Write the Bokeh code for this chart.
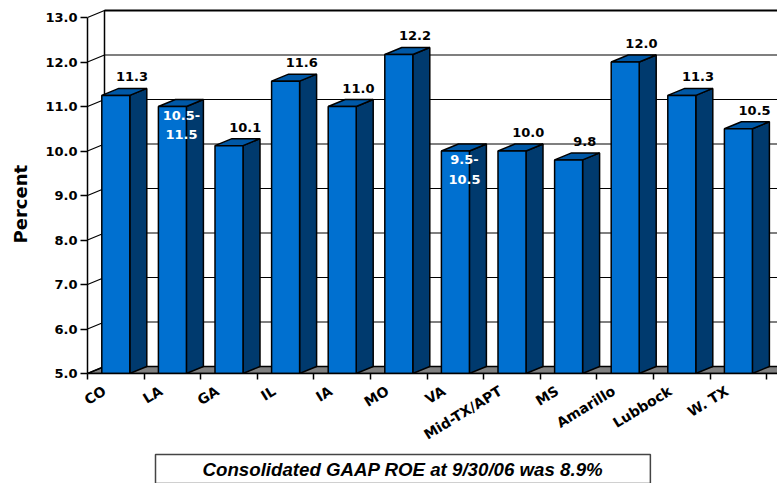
from bokeh.plotting import figure
from bokeh.embed import file_html
from bokeh.resources import INLINE
from bokeh.models import FixedTicker, NumeralTickFormatter, Title
from bokeh.core.properties import value

categories = ["CO", "LA", "GA", "IL", "IA", "MO", "VA", "Mid-TX/APT", "MS", "Amarillo", "Lubbock", "W. TX"]
roe = [11.25, 11.0, 10.12, 11.57, 11.0, 12.17, 10.0, 10.0, 9.8, 12.0, 11.25, 10.5]
labels_above = ["11.3", "", "10.1", "11.6", "11.0", "12.2", "", "10.0", "9.8", "12.0", "11.3", "10.5"]
labels_inside = ["", "10.5-\n11.5", "", "", "", "", "9.5-\n10.5", "", "", "", "", ""]
y_ticks = [5, 6, 7, 8, 9, 10, 11, 12, 13]
caption = "Consolidated GAAP ROE at 9/30/06 was 8.9%"

PX_X, PX_Y = 56.6, 44.5
DX, DY = 17 / PX_X, 7 / PX_Y
HALF = 14 / PX_X
W, H = 777, 483
LEFT, BOTTOM = 87, 110
BASE = 5
x_end = (W - LEFT) / PX_X
y_end = BASE + (H - BOTTOM) / PX_Y
n = len(categories)
FONT = "DejaVu Sans"

p = figure(width=W, height=H, output_backend="svg", toolbar_location=None,
           x_range=(0, x_end), y_range=(BASE, y_end),
           min_border_left=LEFT, min_border_bottom=BOTTOM, min_border_top=0, min_border_right=0)
p.outline_line_color = None
p.grid.visible = False

# floor
p.patch([0, DX, x_end + DX, x_end], [BASE, BASE + DY, BASE + DY, BASE], fill_color="#808080", line_color="black", line_width=1.5)
# wall grid
xs = [[0, DX, x_end + 1] for _ in y_ticks]
ys = [[v, v + DY, v + DY] for v in y_ticks]
p.multi_line(xs, ys, line_color="black", line_width=1.2)
p.line([DX, DX], [BASE + DY, y_ticks[-1] + DY], line_color="black", line_width=1.5)
p.line([DX, x_end + 1], [y_ticks[-1] + DY] * 2, line_color="black", line_width=2)

# bars
centers = [i + 0.5 for i in range(n)]
for c, v in zip(centers, roe):
    l, r = c - HALF, c + HALF
    p.patch([r, r + DX, r + DX, r], [BASE, BASE + DY, v + DY, v], fill_color="#003A6E", line_color="black", line_width=1.5)
    p.patch([l, l + DX, r + DX, r], [v, v + DY, v + DY, v], fill_color="#0058A6", line_color="black", line_width=1.5)
    p.quad(left=l, right=r, bottom=BASE, top=v, fill_color="#0070D0", line_color="black", line_width=1.5)

# data labels
p.text([c + HALF * 0.55 + DX / 2 for c in centers], [v + DY for v in roe], text=labels_above,
       text_font=value(FONT), text_font_style="bold", text_font_size="13px", text_color="black",
       text_align="center", text_baseline="bottom", y_offset=-7)
p.text([c + 0.16 for c in centers], roe, text=labels_inside,
       text_font=value(FONT), text_font_style="bold", text_font_size="13px", text_color="white",
       text_align="center", text_baseline="top", y_offset=1, text_line_height=1.3)

# axes
ya = p.yaxis[0]
ya.ticker = FixedTicker(ticks=y_ticks)
ya.formatter = NumeralTickFormatter(format="0.0")
ya.bounds = (BASE, y_ticks[-1])
ya.major_tick_out = 7
ya.major_tick_in = 0
ya.minor_tick_out = 0
ya.minor_tick_in = 0
ya.major_label_standoff = 3
ya.major_label_text_font = FONT
ya.major_label_text_font_style = "bold"
ya.major_label_text_font_size = "13px"
ya.major_label_text_color = "black"
ya.axis_line_color = "black"
ya.axis_line_width = 1.5
ya.major_tick_line_color = "black"
ya.major_tick_line_width = 1.5

label_pos = [i + 0.3 for i in range(n)]
xa = p.xaxis[0]
xa.ticker = FixedTicker(ticks=label_pos, minor_ticks=list(range(n + 1)))
xa.major_label_overrides = {pos: name for pos, name in zip(label_pos, categories)}
xa.major_tick_out = 0
xa.major_tick_in = 0
xa.minor_tick_out = 6
xa.minor_tick_in = 0
xa.minor_tick_line_color = "black"
xa.minor_tick_line_width = 1.5
xa.major_label_orientation = 0.55
xa.major_label_standoff = 10
xa.major_label_text_font = FONT
xa.major_label_text_font_style = "bold"
xa.major_label_text_font_size = "14px"
xa.major_label_text_color = "black"
xa.axis_line_color = "black"
xa.axis_line_width = 1.5

p.add_layout(Title(text="Percent", align="left", offset=130, standoff=19, vertical_align="top",
                   text_font=FONT, text_font_style="bold", text_font_size="18px", text_color="black"), "left")

p.add_layout(Title(text=caption, align="left", offset=68, standoff=0,
                   text_font="Liberation Sans", text_font_style="bold italic", text_font_size="18.7px",
                   text_color="black", background_fill_color="white",
                   border_line_color="#444444", border_line_width=1.5, padding=(47, 4)), "below")

open("out.html", "w").write(file_html(p, INLINE))
